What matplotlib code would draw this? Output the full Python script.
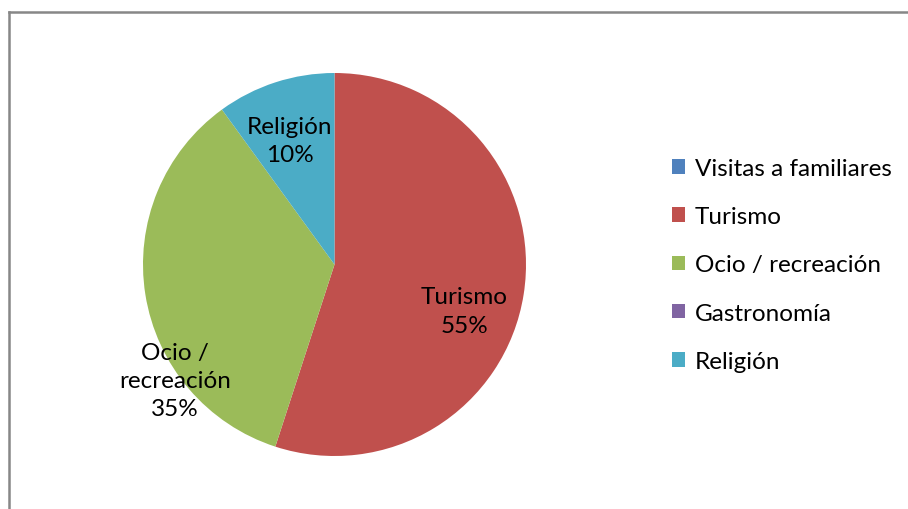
import matplotlib
matplotlib.use("Agg")
import matplotlib.pyplot as plt
from matplotlib.patches import Patch
from matplotlib.lines import Line2D
import numpy as np

categories = ["Visitas a familiares", "Turismo", "Ocio / recreación", "Gastronomía", "Religión"]
values = [0, 55, 35, 0, 10]
colors = ["#4F81BD", "#C0504D", "#9BBB59", "#8064A2", "#4BACC6"]
label_texts = ["", "Turismo\n55%", "Ocio /\nrecreación\n35%", "", "Religión\n10%"]
# label placement (radius fraction, angle deg) chosen per wedge
label_pos = [None, (0.72, -19.7), (1.03, 216.0), None, (0.69, 109.7)]

plt.rcParams['font.family'] = ['Lato', 'DejaVu Sans']

W, H = 908, 510
fig = plt.figure(figsize=(W / 100, H / 100), dpi=100)

cx, cy, r = 334.5, 265.5, 191.5
ax = fig.add_axes([(cx - r) / W, (H - cy - r) / H, 2 * r / W, 2 * r / H])
wedges, _ = ax.pie(values, colors=colors, startangle=90, counterclock=False,
                   radius=1.0, wedgeprops=dict(linewidth=0))
ax.set_xlim(-1, 1)
ax.set_ylim(-1, 1)
ax.set_aspect('equal')
ax.axis('off')

FS = 17.5
for txt, pos in zip(label_texts, label_pos):
    if pos is None:
        continue
    d, a = pos
    ax.text(d * np.cos(np.radians(a)), d * np.sin(np.radians(a)), txt,
            ha='center', va='center', fontsize=FS, color='black',
            linespacing=1.42)

# frame (only left and top visible)
fx0, fy0 = 9 / W, 1 - 13 / H
fig.add_artist(Line2D([fx0, fx0], [0, fy0], transform=fig.transFigure,
                      color='#878787', linewidth=1.8))
fig.add_artist(Line2D([fx0, 1.0], [fy0, fy0], transform=fig.transFigure,
                      color='#878787', linewidth=1.8))

handles = [Patch(facecolor=c, edgecolor='none') for c in colors]
leg = fig.legend(handles, categories, loc='upper left',
                 bbox_to_anchor=(672 / W, 1 - 159 / H), frameon=False,
                 fontsize=FS, handlelength=0.55, handleheight=0.55,
                 handletextpad=0.4, labelspacing=1.12, borderaxespad=0,
                 borderpad=0)

fig.savefig("out.png", dpi=100)
